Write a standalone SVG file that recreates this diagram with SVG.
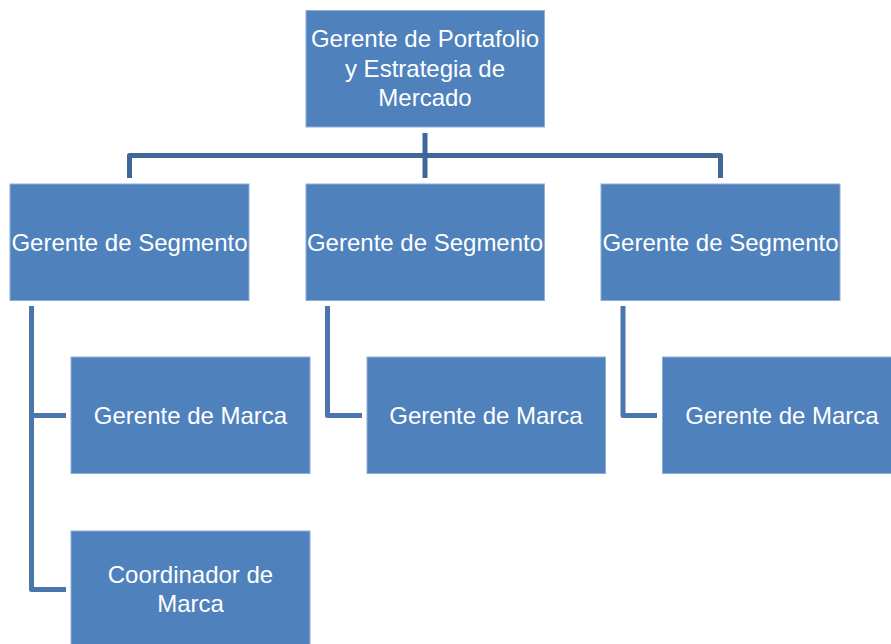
<svg xmlns="http://www.w3.org/2000/svg" width="891" height="644" viewBox="0 0 891 644">
<style>
.box{fill:#4f81bd;stroke:#8eaedb;stroke-width:1}
.t{font-family:"Liberation Sans",Arial,sans-serif;font-size:24px;fill:#ffffff;text-anchor:middle}
.c1{fill:none;stroke:#3f6797;stroke-width:5;stroke-linejoin:round}
.c2{fill:none;stroke:#4a76ad;stroke-width:5;stroke-linejoin:round}
</style>
<rect width="891" height="644" fill="#ffffff"/>
<g id="connectors">
<path class="c1" d="M425 133V178"/>
<path class="c1" d="M129.5 178V155.5H720.5V178"/>
<path class="c2" d="M31.5 306V589.5H66M31.5 415.5H66"/>
<path class="c2" d="M327.5 306V415.5H362"/>
<path class="c2" d="M623 306V415.5H657"/>
</g>
<g id="portafolio">
<rect class="box" x="306" y="10.5" width="238.5" height="116.5"/>
<text class="t" x="425" y="47">Gerente de Portafolio</text>
<text class="t" x="425" y="77">y Estrategia de</text>
<text class="t" x="425" y="106">Mercado</text>
</g>
<g id="segmento1">
<rect class="box" x="10" y="184" width="239" height="116.5"/>
<text class="t" x="129.5" y="250.5">Gerente de Segmento</text>
</g>
<g id="segmento2">
<rect class="box" x="306" y="184" width="238.5" height="116.5"/>
<text class="t" x="425" y="250.5">Gerente de Segmento</text>
</g>
<g id="segmento3">
<rect class="box" x="601" y="184" width="239" height="116.5"/>
<text class="t" x="720.5" y="250.5">Gerente de Segmento</text>
</g>
<g id="marca1">
<rect class="box" x="71" y="357" width="239" height="116.5"/>
<text class="t" x="190.5" y="423.5">Gerente de Marca</text>
</g>
<g id="marca2">
<rect class="box" x="367" y="357" width="238.5" height="116.5"/>
<text class="t" x="486" y="423.5">Gerente de Marca</text>
</g>
<g id="marca3">
<rect class="box" x="662.5" y="357" width="239" height="116.5"/>
<text class="t" x="782" y="423.5">Gerente de Marca</text>
</g>
<g id="coordinador">
<rect class="box" x="71" y="531" width="239" height="118"/>
<text class="t" x="190.5" y="582.5">Coordinador de</text>
<text class="t" x="190.5" y="612">Marca</text>
</g>
</svg>
